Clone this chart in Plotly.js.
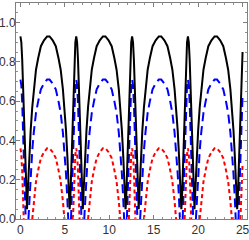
<!DOCTYPE html>
<html>
<head>
<meta charset="utf-8">
<script src="https://cdn.plot.ly/plotly-3.0.1.min.js"></script>
<style>html,body{margin:0;padding:0;background:#fff;}#chart{width:249px;height:240px;}</style>
</head>
<body>
<div id="chart"></div>
<script>
var xs = [
0,0.1,0.2,0.3,0.37,0.45,0.52,0.59,0.67,0.74,0.82,0.9,1.0,1.15,1.33,1.5,1.75,2.0,2.3,2.65,3.0,3.14,
3.28,3.63,3.98,4.28,4.53,4.78,4.95,5.13,5.28,5.38,5.46,5.54,5.61,5.69,5.76,5.83,5.91,5.98,6.08,6.18,
6.28,6.38,6.48,6.58,6.65,6.73,6.80,6.87,6.95,7.02,7.10,7.18,7.28,7.43,7.61,7.78,8.03,8.28,8.58,8.93,9.28,9.42,
9.57,9.92,10.27,10.57,10.82,11.07,11.24,11.42,11.57,11.67,11.75,11.83,11.90,11.98,12.05,12.12,12.20,12.27,12.37,12.47,
12.57,12.67,12.77,12.87,12.94,13.02,13.09,13.16,13.24,13.31,13.39,13.47,13.57,13.72,13.90,14.07,14.32,14.57,14.87,15.22,15.57,15.71,
15.85,16.20,16.55,16.85,17.10,17.35,17.52,17.70,17.85,17.95,18.03,18.11,18.18,18.26,18.33,18.40,18.48,18.55,18.65,18.75,
18.85,18.95,19.05,19.15,19.22,19.30,19.37,19.44,19.52,19.59,19.67,19.75,19.85,20.00,20.18,20.35,20.60,20.85,21.15,21.50,21.85,21.99,
22.13,22.48,22.83,23.13,23.38,23.63,23.80,23.98,24.13,24.23,24.31,24.39,24.46,24.54,24.61,24.68,24.76,24.83,24.93,25.0
];
var blackVals = [
0.93,0.90,0.81,0.68,0.57,0.44,0.32,0.21,0.10,0.05,0.13,0.22,0.32,0.45,0.57,0.66,0.76,0.82,0.88,0.91,0.93,0.93,
0.93,0.91,0.88,0.82,0.76,0.66,0.57,0.45,0.32,0.22,0.13,0.05,0.10,0.21,0.32,0.44,0.57,0.68,0.81,0.90,
0.93,0.90,0.81,0.68,0.57,0.44,0.32,0.21,0.10,0.05,0.13,0.22,0.32,0.45,0.57,0.66,0.76,0.82,0.88,0.91,0.93,0.93,
0.93,0.91,0.88,0.82,0.76,0.66,0.57,0.45,0.32,0.22,0.13,0.05,0.10,0.21,0.32,0.44,0.57,0.68,0.81,0.90,
0.93,0.90,0.81,0.68,0.57,0.44,0.32,0.21,0.10,0.05,0.13,0.22,0.32,0.45,0.57,0.66,0.76,0.82,0.88,0.91,0.93,0.93,
0.93,0.91,0.88,0.82,0.76,0.66,0.57,0.45,0.32,0.22,0.13,0.05,0.10,0.21,0.32,0.44,0.57,0.68,0.81,0.90,
0.93,0.90,0.81,0.68,0.57,0.44,0.32,0.21,0.10,0.05,0.13,0.22,0.32,0.45,0.57,0.66,0.76,0.82,0.88,0.91,0.93,0.93,
0.93,0.91,0.88,0.82,0.76,0.66,0.57,0.45,0.32,0.22,0.13,0.05,0.10,0.21,0.32,0.44,0.57,0.68,0.81,0.85
];
var blueVals = [
0.71,0.68,0.59,0.46,0.35,0.22,0.10,0,null,null,null,0,0.10,0.23,0.35,0.44,0.54,0.60,0.66,0.69,0.71,0.71,
0.71,0.69,0.66,0.60,0.54,0.44,0.35,0.23,0.10,0,null,null,null,0,0.10,0.22,0.35,0.46,0.59,0.68,
0.71,0.68,0.59,0.46,0.35,0.22,0.10,0,null,null,null,0,0.10,0.23,0.35,0.44,0.54,0.60,0.66,0.69,0.71,0.71,
0.71,0.69,0.66,0.60,0.54,0.44,0.35,0.23,0.10,0,null,null,null,0,0.10,0.22,0.35,0.46,0.59,0.68,
0.71,0.68,0.59,0.46,0.35,0.22,0.10,0,null,null,null,0,0.10,0.23,0.35,0.44,0.54,0.60,0.66,0.69,0.71,0.71,
0.71,0.69,0.66,0.60,0.54,0.44,0.35,0.23,0.10,0,null,null,null,0,0.10,0.22,0.35,0.46,0.59,0.68,
0.71,0.68,0.59,0.46,0.35,0.22,0.10,0,null,null,null,0,0.10,0.23,0.35,0.44,0.54,0.60,0.66,0.69,0.71,0.71,
0.71,0.69,0.66,0.60,0.54,0.44,0.35,0.23,0.10,0,null,null,null,0,0.10,0.22,0.35,0.46,0.59,0.63
];
var redVals = [
0.36,0.33,0.24,0.11,0,null,null,null,null,null,null,null,null,null,0,0.09,0.19,0.25,0.31,0.34,0.36,0.36,
0.36,0.34,0.31,0.25,0.19,0.09,0,null,null,null,null,null,null,null,null,null,0,0.11,0.24,0.33,
0.36,0.33,0.24,0.11,0,null,null,null,null,null,null,null,null,null,0,0.09,0.19,0.25,0.31,0.34,0.36,0.36,
0.36,0.34,0.31,0.25,0.19,0.09,0,null,null,null,null,null,null,null,null,null,0,0.11,0.24,0.33,
0.36,0.33,0.24,0.11,0,null,null,null,null,null,null,null,null,null,0,0.09,0.19,0.25,0.31,0.34,0.36,0.36,
0.36,0.34,0.31,0.25,0.19,0.09,0,null,null,null,null,null,null,null,null,null,0,0.11,0.24,0.33,
0.36,0.33,0.24,0.11,0,null,null,null,null,null,null,null,null,null,0,0.09,0.19,0.25,0.31,0.34,0.36,0.36,
0.36,0.34,0.31,0.25,0.19,0.09,0,null,null,null,null,null,null,null,null,null,0,0.11,0.24,0.28
];
var xTickVals = [0,5,10,15,20,25];
var xTickText = ["0","5","10","15","20","25"];
var yTickVals = [0,0.2,0.4,0.6,0.8,1.0];
var yTickText = ["0.0","0.2","0.4","0.6","0.8","1.0"];

var traces = [
  {x: xs, y: redVals, mode: 'lines', line: {color: '#ff0000', width: 2, dash: '4px,3px'}, hoverinfo: 'skip'},
  {x: xs, y: blueVals, mode: 'lines', line: {color: '#0000ff', width: 2, dash: '9px,5px'}, hoverinfo: 'skip'},
  {x: xs, y: blackVals, mode: 'lines', line: {color: '#000000', width: 2}, hoverinfo: 'skip'}
];
var axisCommon = {
  showgrid: false, zeroline: false, showline: true, linecolor: '#808080', linewidth: 1,
  mirror: 'ticks', ticks: 'inside', ticklen: 4, tickcolor: '#808080', tickwidth: 1
};
var layout = {
  width: 249, height: 240,
  margin: {l: 16, r: 2, t: 3, b: 21, pad: 0},
  paper_bgcolor: '#ffffff', plot_bgcolor: '#ffffff',
  showlegend: false,
  xaxis: Object.assign({}, axisCommon, {
    range: [-0.5, 25.5], tickmode: 'array', tickvals: xTickVals, ticktext: xTickText,
    ticklabeloverflow: 'allow',
    tickfont: {family: 'Liberation Sans, Arial, sans-serif', size: 12, color: '#333333'},
    minor: {dtick: 1, tick0: 0, ticks: 'inside', ticklen: 2, tickcolor: '#909090', tickwidth: 1}
  }),
  yaxis: Object.assign({}, axisCommon, {
    range: [0, 1.1], tickmode: 'array', tickvals: yTickVals, ticktext: yTickText,
    ticklabelstandoff: -3,
    tickfont: {family: 'Liberation Sans Narrow, Liberation Sans, Arial, sans-serif', size: 12, color: '#333333'},
    minor: {dtick: 0.05, tick0: 0, ticks: 'inside', ticklen: 2, tickcolor: '#909090', tickwidth: 1}
  })
};
Plotly.newPlot('chart', traces, layout, {displayModeBar: false, staticPlot: true});
</script>
</body>
</html>
